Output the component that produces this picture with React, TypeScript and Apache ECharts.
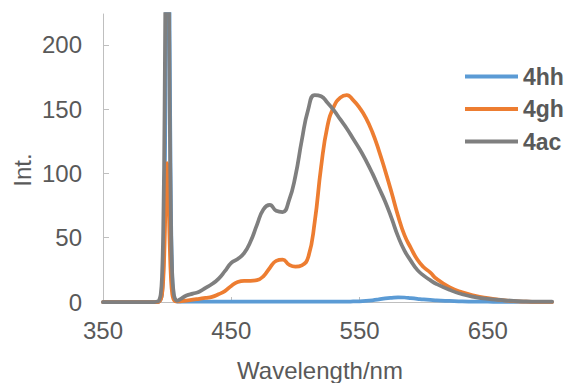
import React, { useEffect, useRef } from "react";
import * as echarts from "echarts";

const wavelengths = [350, 380, 390, 393, 394, 395, 396, 397, 398, 399, 400, 401, 402, 403, 404, 405, 406, 408, 410, 415, 420, 425, 430, 435, 440, 445, 450, 455, 460, 465, 470, 475, 480, 485, 490, 495, 500, 505, 510, 515, 520, 525, 530, 535, 540, 545, 550, 555, 560, 565, 570, 575, 580, 585, 590, 595, 600, 605, 610, 620, 630, 640, 650, 660, 670, 680, 690, 700];

const s4hh = [0, 0, 0, 0, 0.5, 2, 6, 25, 80, 200, 320, 330, 200, 70, 20, 5, 1.5, 0.3, 0.2, 0.2, 0.2, 0.2, 0.2, 0.2, 0.2, 0.2, 0.2, 0.2, 0.2, 0.2, 0.2, 0.2, 0.2, 0.2, 0.2, 0.2, 0.2, 0.2, 0.3, 0.3, 0.3, 0.3, 0.3, 0.3, 0.3, 0.4, 0.5, 0.8, 1.3, 2, 2.8, 3.3, 3.6, 3.5, 3, 2.5, 2, 1.6, 1.3, 0.8, 0.5, 0.3, 0.2, 0.1, 0.1, 0.1, 0.1, 0.1];

const s4gh = [0, 0, 0, 0, 0.5, 2, 6, 18, 45, 85, 108, 85, 45, 18, 6, 2, 0.8, 0.4, 0.5, 1, 1.8, 2.5, 3.2, 4, 6, 8.5, 12.5, 15.5, 16.5, 16.5, 17, 20, 26.5, 32, 33, 29, 27.5, 28.5, 35, 62, 105, 137, 152, 159, 161, 157, 151, 143, 132, 118, 102, 85, 67, 52, 42, 33, 27, 23, 18, 11.5, 7.5, 4.8, 3, 1.6, 0.6, 0.3, 0.1, 0];

const s4ac = [0, 0, 0, 0.5, 2, 6, 20, 60, 150, 300, 420, 300, 150, 60, 20, 8, 3, 1, 2, 5, 6.5, 8, 11, 14, 18, 24, 30.5, 33.5, 38, 47, 60, 72, 75.5, 71, 70, 79, 98, 126, 150, 161, 160, 155, 149, 142, 135, 127, 119, 110, 100, 89, 78, 65, 51, 40, 32, 25, 20.5, 17, 14, 9.5, 6, 3.8, 2.4, 1.6, 0.9, 0.5, 0.3, 0.2];

const seriesNames = ["4hh", "4gh", "4ac"];
const seriesColors = ["#5b9bd5", "#ed7d31", "#7f7f7f"];
const seriesValues = [s4hh, s4gh, s4ac];

const xTicks = [350, 450, 550, 650];
const yTicks = [0, 50, 100, 150, 200];

const FONT = "'Liberation Sans', Arial, sans-serif";
const TEXT = "#595959";
const AXIS = "#bfbfbf";

export default function App() {
  const ref = useRef<HTMLDivElement>(null);
  useEffect(() => {
    if (!ref.current) return;
    const chart = echarts.init(ref.current, null, { renderer: "svg" });
    chart.setOption({
      animation: false,
      backgroundColor: "#ffffff",
      textStyle: { fontFamily: FONT },
      grid: { left: 103, right: 14, top: 14, bottom: 81 },
      legend: {
        orient: "vertical",
        left: 465,
        top: 65,
        padding: 0,
        icon: "rect",
        itemWidth: 53,
        itemHeight: 4,
        itemGap: 9.5,
        textStyle: { fontFamily: FONT, fontSize: 23, fontWeight: "bold", color: TEXT },
        data: seriesNames,
      },
      xAxis: {
        type: "value",
        min: 350,
        max: 700,
        axisLine: { show: true, lineStyle: { color: AXIS, width: 1 } },
        axisTick: { show: true, inside: true, length: 5, lineStyle: { color: AXIS }, customValues: xTicks },
        axisLabel: { fontSize: 24, color: TEXT, margin: 16, customValues: xTicks, fontFamily: FONT },
        splitLine: { show: false },
      },
      yAxis: {
        type: "value",
        min: 0,
        max: 224,
        axisLine: { show: true, lineStyle: { color: AXIS, width: 1 } },
        axisTick: { show: true, inside: true, length: 6, lineStyle: { color: AXIS }, customValues: yTicks },
        axisLabel: { fontSize: 24, color: TEXT, margin: 21, customValues: yTicks, fontFamily: FONT },
        splitLine: { show: false },
      },
      graphic: [
        {
          type: "text",
          x: 320,
          y: 370,
          style: { text: "Wavelength/nm", font: `24px ${FONT}`, fill: TEXT, align: "center", verticalAlign: "middle" },
        },
        {
          type: "text",
          x: 22,
          y: 170,
          rotation: Math.PI / 2,
          style: { text: "Int.", font: `24px ${FONT}`, fill: TEXT, align: "center", verticalAlign: "middle" },
        },
      ],
      series: seriesNames.map((name, i) => ({
        name,
        type: "line",
        data: wavelengths.map((w, j) => [w, seriesValues[i][j]]),
        showSymbol: false,
        symbol: "none",
        smooth: 0.5,
        clip: true,
        lineStyle: { color: seriesColors[i], width: 3.75, join: "round", cap: "round" },
        itemStyle: { color: seriesColors[i] },
      })),
    });
    return () => chart.dispose();
  }, []);
  return <div ref={ref} style={{ position: "fixed", left: 0, top: 0, width: 566, height: 383 }} />;
}
